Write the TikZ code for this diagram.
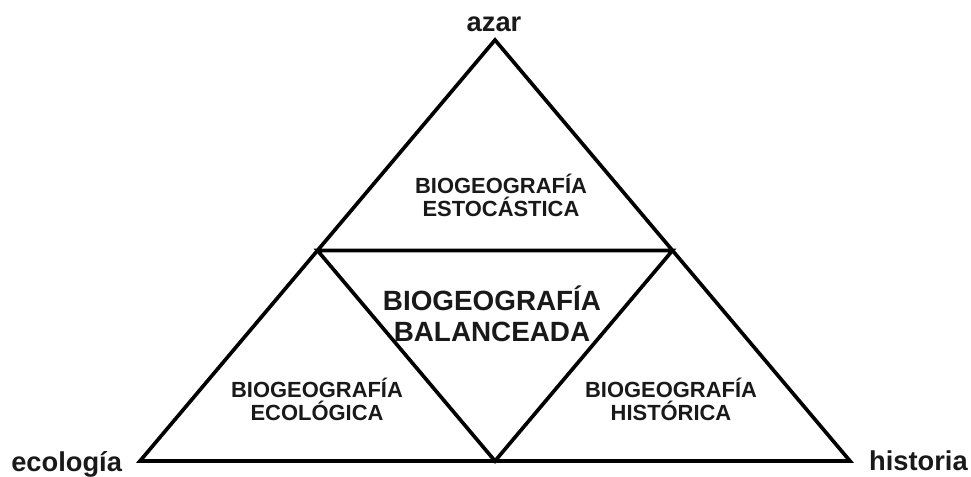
\documentclass[tikz,border=0pt]{standalone}
\usepackage{fontspec}
\setmainfont{Liberation Sans}
\usetikzlibrary{calc}

\begin{document}
\begin{tikzpicture}[
  x=0.025cm, y=-0.025cm,
  edge/.style={line width=2.6pt, line join=miter},
  pole/.style={font=\fontsize{19.4}{22}\selectfont\bfseries, text=black!90, inner sep=0pt},
  field/.style={font=\fontsize{15.6}{16.3}\selectfont\bfseries, align=center, text=black!90},
  core/.style={font=\fontsize{19.8}{22}\selectfont\bfseries, align=center, text=black!90}
]
\useasboundingbox (0,0) rectangle (971,477);

% outer triangle and its midpoints
\coordinate (top) at (495,40);
\coordinate (lft) at (140,461);
\coordinate (rgt) at (850,461);
\coordinate (ml) at ($(top)!0.5!(lft)$);
\coordinate (mr) at ($(top)!0.5!(rgt)$);
\coordinate (mb) at ($(lft)!0.5!(rgt)$);

\draw[edge] (top) -- (lft) -- (rgt) -- cycle;
\draw[edge] (ml) -- (mr) -- (mb) -- cycle;

% poles
\node[pole, anchor=base] (azar) at (494,32) {azar};
\node[pole, anchor=base west] (ecologia) at (11,471) {ecología};
\node[pole, anchor=base east] (historia) at (968,470) {historia};

% fields
\node[field] (estoc) at (501,195) {BIOGEOGRAFÍA\\ESTOCÁSTICA};
\node[field] (ecol) at (317,399) {BIOGEOGRAFÍA\\ECOLÓGICA};
\node[field] (hist) at (671,399) {BIOGEOGRAFÍA\\HISTÓRICA};
\node[core] (bal) at (492,314) {BIOGEOGRAFÍA\\BALANCEADA};
\end{tikzpicture}
\end{document}
